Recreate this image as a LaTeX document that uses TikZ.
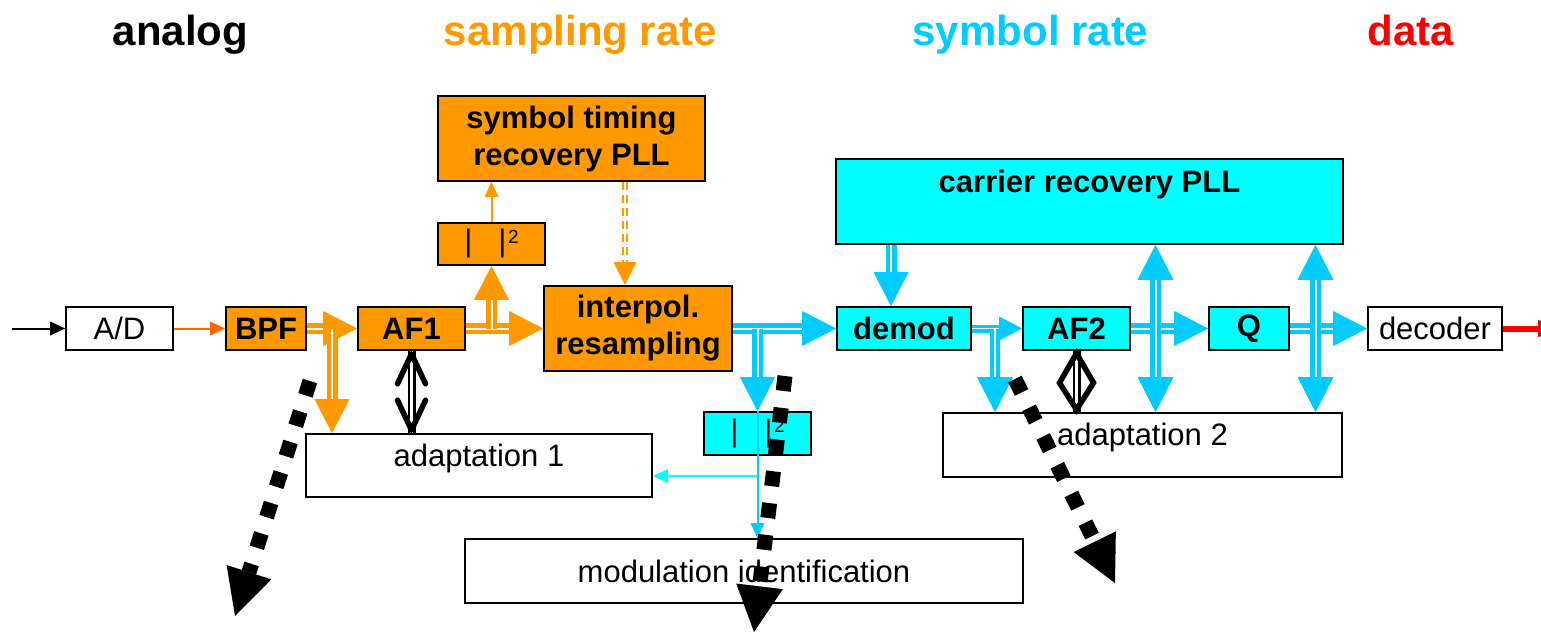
\documentclass[tikz,border=0pt]{standalone}
\usepackage{fontspec}
\setmainfont{Liberation Sans}
\usetikzlibrary{arrows.meta,calc}
\definecolor{orng}{HTML}{FF9900}
\definecolor{aqua}{HTML}{00FFFF}
\definecolor{sky}{HTML}{00CCFF}
\definecolor{redorng}{HTML}{FF6600}
\definecolor{outred}{HTML}{FF0000}
% magnitude-squared label |  |^2
\newcommand\absq{|\hspace{26pt}|\kern1.5pt\raisebox{8.5pt}{\fontsize{19}{19}\selectfont 2}}
\begin{document}
\begin{tikzpicture}[x=1pt,y=-1pt,
  blk/.style={draw=black, line width=1.6pt, inner sep=0pt, align=center,
    minimum height=43pt, font=\fontsize{31}{37}\selectfont},
  oblk/.style={blk, fill=orng, font=\bfseries\fontsize{31}{37}\selectfont},
  cblk/.style={blk, fill=aqua, font=\bfseries\fontsize{31}{37}\selectfont},
  wblk/.style={blk, fill=white},
  plain/.style={font=\fontsize{31}{37}\selectfont},
  boldtxt/.style={font=\bfseries\fontsize{31}{37}\selectfont},
  hd/.style={anchor=base, inner sep=0pt, font=\bfseries\fontsize{42}{50}\selectfont},
  thinarrow/.style={line width=2pt, -{Triangle[length=15pt,width=14pt,line width=0pt]}},
  fat/.style={line width=11pt, -{Triangle[length=34pt,width=35pt,line width=0pt]},
    postaction={draw=white, line width=2pt, shorten >=34pt, -}},
  fatboth/.style={line width=11pt,
    {Triangle[length=35pt,width=36pt,line width=0pt]}-{Triangle[length=35pt,width=36pt,line width=0pt]},
    postaction={draw=white, line width=2pt, shorten >=35pt, shorten <=35pt, -}},
  slim/.style={line width=8pt, -{Triangle[length=23pt,width=24pt,line width=0pt]},
    postaction={draw=white, line width=1.5pt, shorten >=23pt, -}},
  drop/.style={line width=10pt, -{Triangle[length=35pt,width=36pt,line width=0pt]},
    postaction={draw=white, line width=2pt, shorten >=35pt, -}},
  dashdbl/.style={draw=orng, line width=2pt, double=white, double distance=2pt,
    dash pattern=on 8pt off 5pt},
  dbl/.style={draw=black, line width=2.5pt, double=white, double distance=3pt},
  chev/.style={draw=black, line width=5.5pt, line cap=round, line join=round},
  dots/.style={draw=black, line width=15pt, dash pattern=on 15pt off 17pt,
    -{Triangle[length=46pt,width=47pt,line width=0pt]}},
]
\useasboundingbox (0,0) rectangle (1541,633);
\clip (0,0) rectangle (1541,633);

% column headings
\node[hd] (hA) at (180.5,45) {analog};
\node[hd, text=orng] (hS) at (580.5,45) {sampling rate};
\node[hd, text=sky] (hY) at (1030.5,45) {symbol rate};
\node[hd, text=outred] (hD) at (1410.5,45) {data};

% blocks
\node[wblk, minimum width=107pt] (ad) at (119.5,328.5) {A/D};
\node[oblk, minimum width=80pt] (bpf) at (266,328.5) {BPF};
\node[oblk, minimum width=107pt] (af1) at (411.5,328.5) {AF1};
\node[oblk, plain, minimum width=107pt, minimum height=42pt] (sq1) at (491.5,244) {\absq};
\node[oblk, minimum width=267pt, minimum height=85pt] (stpll) at (571.5,138.5) {symbol timing\\recovery PLL};
\node[oblk, minimum width=188pt, minimum height=85pt] (interp) at (638,328.5) {interpol.\\resampling};
\node[cblk, minimum width=134pt] (demod) at (904,328.5) {demod};
\node[cblk, minimum width=107pt] (af2) at (1076.5,328.5) {AF2};
\node[cblk, minimum width=80pt] (q) at (1249,328.5) {Q};
\node[wblk, minimum width=134pt] (dec) at (1435,328.5) {decoder};
\node[cblk, minimum width=507pt, minimum height=85pt,
  label={[boldtxt, yshift=17.5pt]center:carrier recovery PLL}] (crpll) at (1089.5,201.5) {};
\node[wblk, minimum width=346pt, minimum height=63pt,
  label={[plain, yshift=7pt]center:adaptation 1}] (ad1) at (479,465.5) {};
\node[wblk, minimum width=399pt, minimum height=64pt,
  label={[plain, yshift=7.5pt]center:adaptation 2}] (ad2) at (1142.5,445) {};
\node[cblk, plain, minimum width=107pt] (sq2) at (757.5,433.5) {\absq};
\node[wblk, minimum width=558pt, minimum height=64pt] (modid) at (744,571) {modulation identification};

% helper points
\coordinate (in) at (12,328.5);
\coordinate (out) at (1568,328.5);
\coordinate (xb1) at (332,0);
\coordinate (xst) at (625,0);
\coordinate (xa) at (891,0);
\coordinate (xb4) at (995,0);
\coordinate (xv1) at (1155.5,0);
\coordinate (xv2) at (1315.5,0);
\coordinate (br) at (757.5,476);
\coordinate (a1b) at (af1.south |- ad1.north);
\coordinate (a2b) at (af2.south |- ad2.north);

% analog front end
\draw[thinarrow, black] (in) -- (ad.west);
\draw[thinarrow, redorng] (ad.east) -- (bpf.west);

% sampling-rate section
\draw[fat, orng] (bpf.east) -- (af1.west);
\draw[fat, orng] (xb1 |- bpf.east) -- (xb1 |- ad1.north);
\draw[fat, orng] (af1.east) -- (interp.west);
\draw[fat, orng] (sq1.south |- af1.east) -- (sq1.south);
\draw[thinarrow, orng] (sq1.north) -- (sq1.north |- stpll.south);
\draw[dashdbl, shorten >=22pt] (stpll.south -| xst) -- (interp.north -| xst);
\draw[orng, line width=1pt, shorten <=80pt, -{Triangle[length=23pt,width=23pt,line width=0pt]}]
  (stpll.south -| xst) -- (interp.north -| xst);

% symbol-rate section
\draw[fat, sky] (interp.east) -- (demod.west);
\draw[fat, sky] (sq2.north |- interp.east) -- (sq2.north);
\draw[fat, sky] (crpll.south -| xa) -- (demod.north -| xa);
\draw[slim, sky] (demod.east) -- (af2.west);
\draw[drop, sky] (xb4 |- demod.east) -- (xb4 |- ad2.north);
\draw[fat, sky] (af2.east) -- (q.west);
\draw[fat, sky] (q.east) -- (dec.west);
\draw[fatboth, sky] (crpll.south -| xv1) -- (ad2.north -| xv1);
\draw[fatboth, sky] (crpll.south -| xv2) -- (ad2.north -| xv2);
\draw[outred, line width=6pt, -{Triangle[length=30pt,width=17pt,line width=0pt]}] (dec.east) -- (out);

% power detector taps
\draw[thinarrow, sky] (sq2.north) -- (modid.north -| sq2.north);
\draw[thinarrow, aqua] (br) -- (ad1.east |- br);

% adaptation links
\draw[dbl] (af1.south) -- (a1b);
\draw[chev] ([shift={(-14pt,-33pt)}]af1.south) -- ([yshift=-3pt]af1.south) -- ([shift={(14pt,-33pt)}]af1.south);
\draw[chev] ([shift={(-14pt,33pt)}]a1b) -- ([yshift=3pt]a1b) -- ([shift={(14pt,33pt)}]a1b);
\draw[dbl] (af2.south) -- (a2b);
\draw[chev, line join=miter] ([yshift=-2.5pt]af2.south) -- ([shift={(17pt,-32pt)}]af2.south)
  -- ([yshift=2.5pt]a2b) -- ([shift={(-17pt,-32pt)}]af2.south) -- cycle;

% thick dotted arrows
\coordinate (d1s) at (310,381);
\coordinate (d1e) at (235,616);
\coordinate (d2s) at (785,376);
\coordinate (d2e) at (754,632);
\coordinate (d3s) at (1015,379);
\coordinate (d3e) at (1115,583);
\draw[dots] (d1s) -- (d1e);
\draw[dots] (d2s) -- (d2e);
\draw[dots] (d3s) -- (d3e);
\end{tikzpicture}
\end{document}
